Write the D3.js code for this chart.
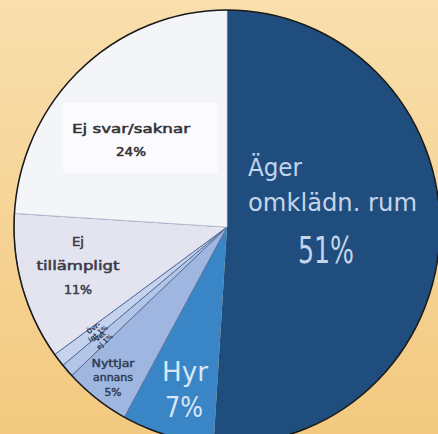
<!DOCTYPE html>
<html><head><meta charset="utf-8">
<script src="https://cdn.jsdelivr.net/npm/d3@7/dist/d3.min.js"></script>
<style>html,body{margin:0;padding:0;overflow:hidden}svg{display:block}</style>
</head><body>
<svg id="c" width="438" height="434"></svg>
<script>
// ---- data ----
const categories = ["Äger omklädn. rum", "Hyr", "Nyttjar annans", "Vet ej", "Övrigt", "Ej tillämpligt", "Ej svar/saknar"];
const values = [51, 7, 5, 1, 1, 11, 24];
const labelLines = [["Äger", "omklädn. rum"], ["Hyr"], ["Nyttjar", "annans"], ["Vet", "ej"], ["Övr-", "igt"], ["Ej", "tillämpligt"], ["Ej svar/saknar"]];

// ---- style ----
const palette = ["#1f4e7e", "#3a85c6", "#9fb7e0", "#b3c6e8", "#c5d3ee", "#e3e4f0", "#f4f5f9"];
const W = 438, H = 434, cx = 227, cy = 227, R = 213, RY = 217;
const font = "'DejaVu Sans Condensed','DejaVu Sans',Roboto,sans-serif";

const svg = d3.select("#c");
const defs = svg.append("defs");
const bg = defs.append("linearGradient").attr("id", "bg").attr("x1", 0).attr("y1", 0).attr("x2", 0).attr("y2", 1);
bg.append("stop").attr("offset", "0%").attr("stop-color", "#f9dfad");
bg.append("stop").attr("offset", "100%").attr("stop-color", "#f2c97f");
svg.append("rect").attr("width", W).attr("height", H).attr("fill", "url(#bg)");

const pie = d3.pie().sort(null).value(d => d)(values);
const arc = d3.arc().innerRadius(0).outerRadius(R);
const g = svg.append("g").attr("transform", `translate(${cx},${cy}) scale(1,${RY / R})`);

g.selectAll("path.s").data(pie).join("path").attr("class", "s")
  .attr("d", arc)
  .attr("fill", (d, i) => palette[i])
  .attr("stroke", (d, i) => i >= 2 && i <= 5 ? "#56709e" : (i === 6 ? "#c9cbd8" : "none"))
  .attr("stroke-width", (d, i) => i >= 2 && i <= 5 ? 1 : 0.8)
  .attr("vector-effect", "non-scaling-stroke");

g.append("circle").attr("r", R).attr("fill", "none").attr("stroke", "#1a1a1a").attr("stroke-width", 1.5)
  .attr("vector-effect", "non-scaling-stroke");

// white box behind "Ej svar/saknar"
svg.append("rect").attr("x", 63).attr("y", 103).attr("width", 155).attr("height", 70)
  .attr("fill", "#ffffff").attr("opacity", 0.6);

// ---- labels: layout (position/size) per slice ----
const layout = [
  {i: 0, lines: [
    {t: labelLines[0][0], x: 248, y: 176, s: 24, w: 54, a: "start"},
    {t: labelLines[0][1], x: 248, y: 211, s: 24, w: 169, a: "start"},
    {t: values[0] + "%", x: 326, y: 263, s: 38, w: 56, a: "middle"}], fill: "#c4d4ea", sw: 0},
  {i: 1, lines: [
    {t: labelLines[1][0], x: 185, y: 381, s: 26, w: 46, a: "middle"},
    {t: values[1] + "%", x: 184, y: 417, s: 28, w: 38, a: "middle"}], fill: "#d8e6f5", sw: 0},
  {i: 2, lines: [
    {t: labelLines[2][0], x: 113, y: 367, s: 10, w: 43, a: "middle"},
    {t: labelLines[2][1], x: 113, y: 381, s: 10, w: 40, a: "middle"},
    {t: values[2] + "%", x: 113, y: 396, s: 10, w: 17, a: "middle"}], fill: "#2e3a55", sw: 0.4},
  {i: 5, lines: [
    {t: labelLines[5][0], x: 78, y: 246, s: 13, w: 12, a: "middle"},
    {t: labelLines[5][1], x: 78, y: 270, s: 13, w: 83, a: "middle"},
    {t: values[5] + "%", x: 78, y: 294, s: 13, w: 28, a: "middle"}], fill: "#3a3b48", sw: 0.5},
  {i: 6, lines: [
    {t: labelLines[6][0], x: 131, y: 133, s: 13, w: 118, a: "middle"},
    {t: values[6] + "%", x: 131, y: 156, s: 13, w: 30, a: "middle"}], fill: "#333338", sw: 0.5}
];

layout.forEach(L => {
  L.lines.forEach(l => {
    svg.append("text").attr("x", l.x).attr("y", l.y)
      .attr("text-anchor", l.a)
      .attr("font-family", font).attr("font-size", l.s)
      .attr("fill", L.fill)
      .attr("stroke", L.sw ? L.fill : "none").attr("stroke-width", L.sw)
      .attr("textLength", l.w).attr("lengthAdjust", "spacingAndGlyphs")
      .text(l.t);
  });
});

// tiny rotated labels for the two 1% slices, placed along their mid-angle
[3, 4].forEach(i => {
  const d = pie[i];
  const a = (d.startAngle + d.endAngle) / 2;
  const r = R * 0.78;
  const x = cx + Math.sin(a) * r, y = cy - Math.cos(a) * r * RY / R;
  const rot = Math.atan2(Math.cos(a), -Math.sin(a)) * 180 / Math.PI;
  const t = svg.append("text").attr("transform", `translate(${x},${y}) rotate(${rot})`)
    .attr("text-anchor", "middle").attr("font-family", font).attr("font-size", 7)
    .attr("font-weight", 700).attr("fill", "#2e3a55");
  t.append("tspan").attr("x", 0).attr("dy", -1).text(labelLines[i][0]);
  t.append("tspan").attr("x", 0).attr("dy", 7).text(labelLines[i][1] + " " + values[i] + "%");
});
</script>
</body></html>
